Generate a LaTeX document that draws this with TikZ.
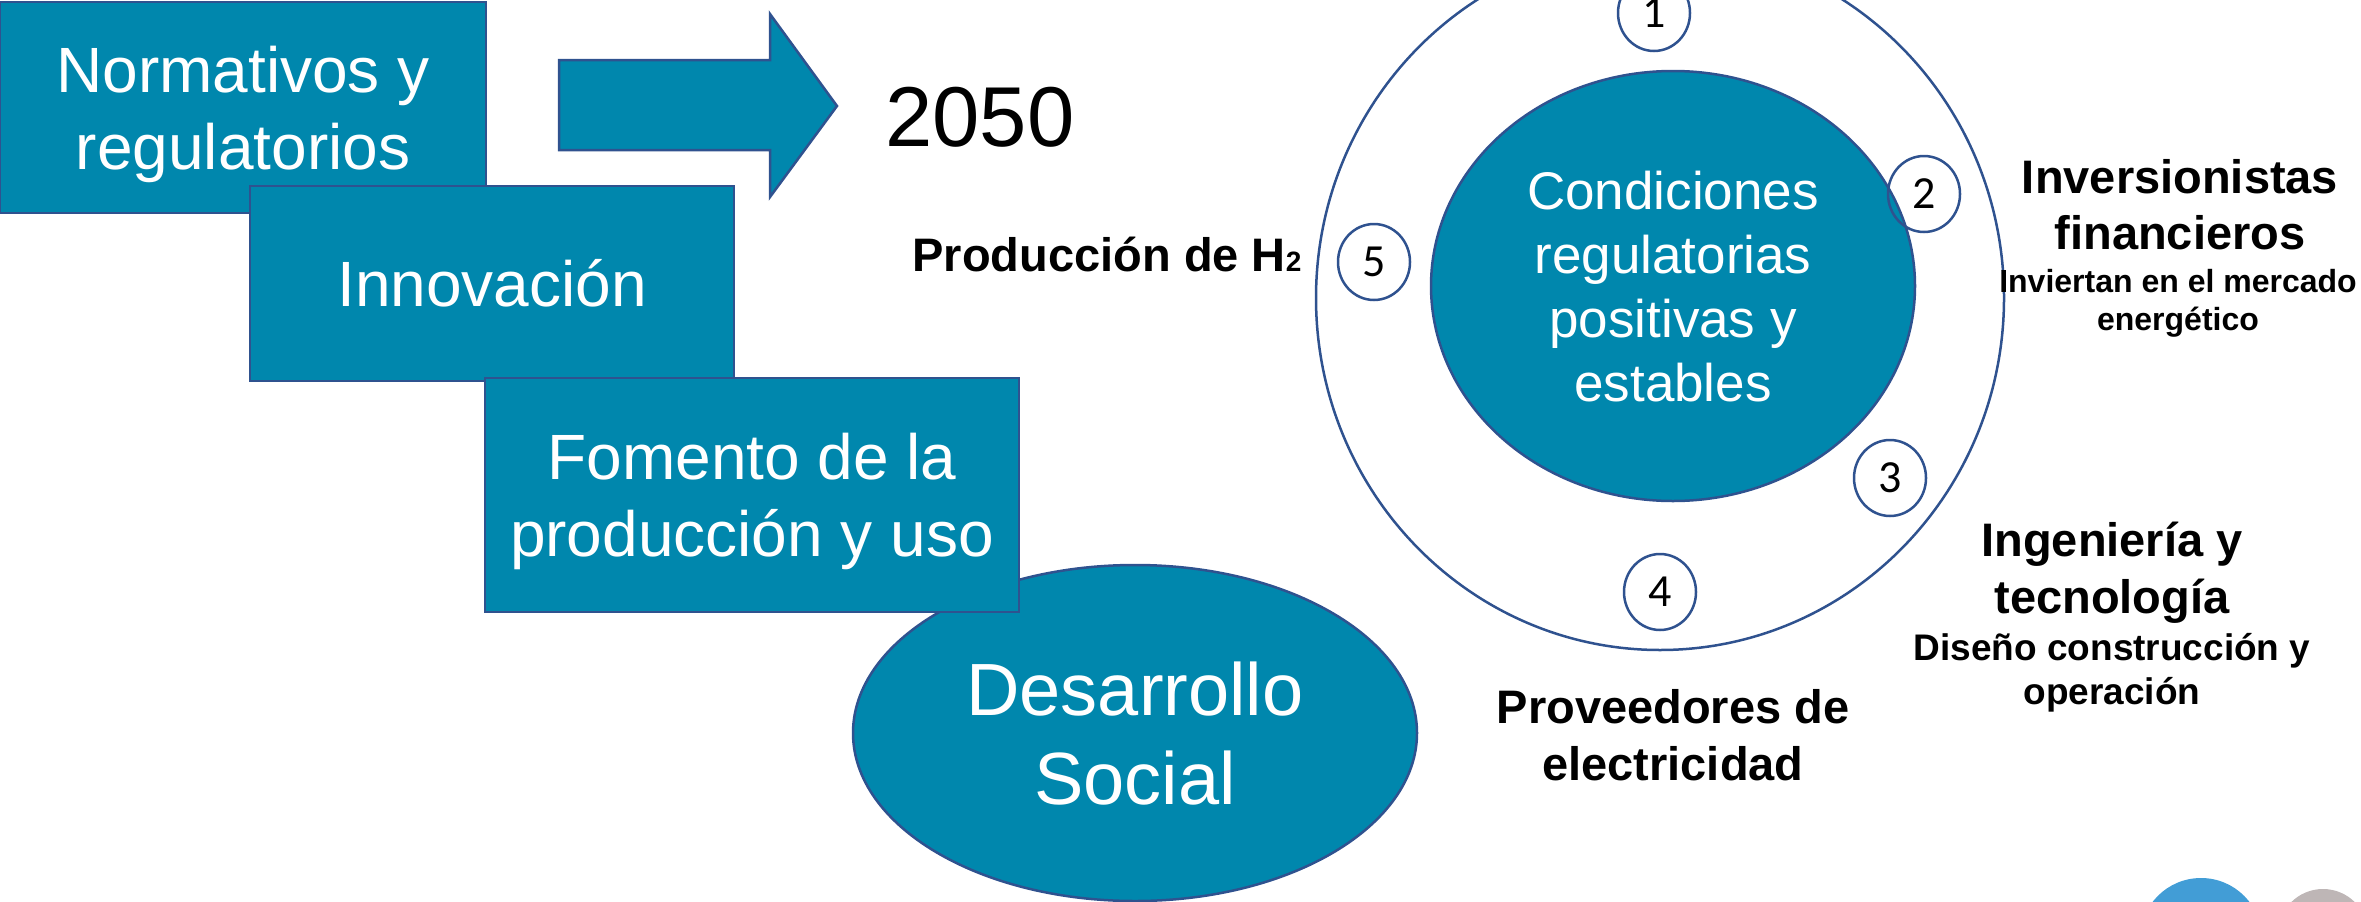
\documentclass[tikz,border=0pt]{standalone}
\usepackage{fontspec}
\setmainfont{Liberation Sans}
\newfontfamily\numfont{Carlito}
\usetikzlibrary{shapes.geometric}
\definecolor{tealfill}{RGB}{0,135,173}
\definecolor{navyline}{RGB}{47,82,143}
\definecolor{dotblue}{RGB}{66,157,214}
\definecolor{dotgray}{RGB}{190,182,182}
\begin{document}
\begin{tikzpicture}[x=1pt,y=-1pt,
  tealshape/.style={draw=navyline, line width=2.5pt, fill=tealfill, text=white, inner sep=0pt, align=center, text depth=0pt},
  boxtext/.style={font=\fontsize{64}{77}\selectfont},
  numcirc/.style={ellipse, draw=navyline, line width=2.5pt, minimum width=72pt, minimum height=76pt, inner sep=0pt, font=\numfont\fontsize{46}{46}\selectfont, text height=29pt, text depth=0pt},
  lbl/.style={anchor=base, align=center, inner sep=0pt}
]
\useasboundingbox (0,0) rectangle (2361,902);
% ring and inner condition ellipse
\node[ellipse, draw=navyline, line width=2.5pt, minimum width=688pt, minimum height=704pt, inner sep=0pt] (ring) at (1660,298) {};
\node[tealshape, ellipse, minimum width=484pt, minimum height=430pt, font=\fontsize{53}{64}\selectfont, text height=230pt] (cond) at (1673,286) {Condiciones\\regulatorias\\positivas y\\estables};
\node[numcirc] (n1) at (1654,13) {1};
\node[numcirc] (n2) at (1924,194) {2};
\node[numcirc] (n3) at (1890,478) {3};
\node[numcirc] (n4) at (1660,592) {4};
\node[numcirc] (n5) at (1374,262) {5};
% social ellipse
\node[tealshape, ellipse, minimum width=564pt, minimum height=336pt, font=\fontsize{74}{89}\selectfont, text height=142pt] (social) at (1135,733) {Desarrollo\\Social};
% stacked boxes
\node[tealshape, rectangle, minimum width=486pt, minimum height=211pt, boxtext, text height=123pt] (norm) at (243,107.5) {Normativos y\\regulatorios};
\node[tealshape, rectangle, minimum width=484pt, minimum height=195pt, boxtext, text height=46pt] (innov) at (492,283.5) {Innovación};
\node[tealshape, rectangle, minimum width=534pt, minimum height=234pt, boxtext, text height=123pt] (fom) at (752,495) {Fomento de la\\producción y uso};
% arrow
\draw[draw=navyline, line width=2.5pt, fill=tealfill, line join=miter] (559,60) -- (770,60) -- (770,14) -- (837,106) -- (770,197) -- (770,150) -- (559,150) -- cycle;
\node[lbl, font=\fontsize{85}{85}\selectfont] (year) at (980,146) {2050};
% labels (base = last line baseline)
\node[lbl, font=\bfseries\fontsize{47}{56}\selectfont] (prod) at (1107,271) {Producción de H{\fontsize{28}{28}\selectfont 2}};
\node[lbl, font=\bfseries\fontsize{47}{56}\selectfont] (inv) at (2180,249) {Inversionistas\\financieros};
\node[lbl, font=\bfseries\fontsize{32}{38}\selectfont] (invsub) at (2178,330) {Inviertan en el mercado\\energético};
\node[lbl, font=\bfseries\fontsize{47}{57}\selectfont] (ing) at (2112,613) {Ingeniería y\\tecnología};
\node[lbl, font=\bfseries\fontsize{37}{44}\selectfont] (ingsub) at (2112,704) {Diseño construcción y\\operación};
\node[lbl, font=\bfseries\fontsize{47}{57}\selectfont] (prov) at (1673,780) {Proveedores de\\electricidad};
% corner dots
\fill[dotblue] (2201,939) circle[radius=61pt];
\fill[dotgray] (2323,934) circle[radius=45pt];
\end{tikzpicture}
\end{document}
